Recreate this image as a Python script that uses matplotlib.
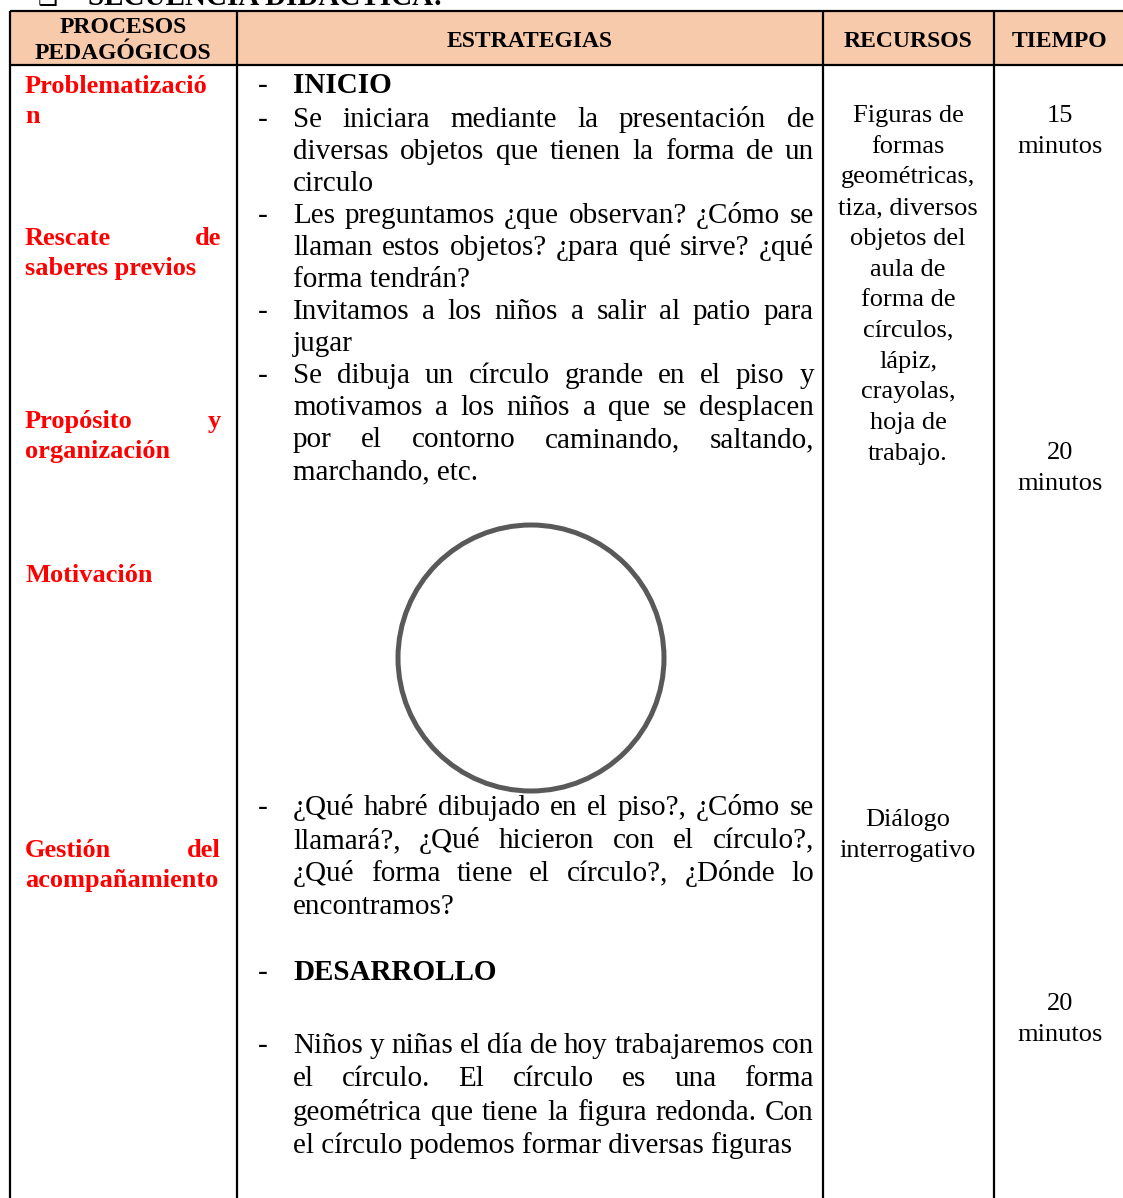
import matplotlib.pyplot as plt
from matplotlib.patches import Rectangle, Circle

plt.rcParams['font.family'] = ['Liberation Serif', 'DejaVu Sans']

# table content
title = "SECUENCIA DIDÁCTICA:"
headers = ["PROCESOS\nPEDAGÓGICOS", "ESTRATEGIAS", "RECURSOS", "TIEMPO"]

procesos = [
    ["Problematizació", "n"],
    ["Rescate de", "saberes previos"],
    ["Propósito y", "organización"],
    ["Motivación"],
    ["Gestión del", "acompañamiento"],
]

inicio_items = [
    ["Se iniciara mediante la presentación de",
     "diversas objetos que tienen la forma de un",
     "circulo"],
    ["Les preguntamos ¿que observan? ¿Cómo se",
     "llaman estos objetos? ¿para qué sirve? ¿qué",
     "forma tendrán?"],
    ["Invitamos a los niños a salir al patio para",
     "jugar"],
    ["Se dibuja un círculo grande en el piso y",
     "motivamos a los niños a que se desplacen",
     "por el contorno caminando, saltando,",
     "marchando, etc."],
]
preguntas = ["¿Qué habré dibujado en el piso?, ¿Cómo se",
             "llamará?, ¿Qué hicieron con el círculo?,",
             "¿Qué forma tiene el círculo?, ¿Dónde lo",
             "encontramos?"]
desarrollo = ["Niños y niñas el día de hoy trabajaremos con",
              "el círculo. El círculo es una forma",
              "geométrica que tiene la figura redonda. Con",
              "el círculo podemos formar diversas figuras"]

recursos_1 = ["Figuras de", "formas", "geométricas,", "tiza, diversos",
              "objetos del", "aula de", "forma de", "círculos,", "lápiz,",
              "crayolas,", "hoja de", "trabajo."]
recursos_2 = ["Diálogo", "interrogativo"]
tiempos = ["15", "20", "20"]

W, H = 1123, 1198
fig = plt.figure(figsize=(W / 100, H / 100), dpi=100)
ax = fig.add_axes([0, 0, 1, 1])
ax.set_xlim(0, W)
ax.set_ylim(H, 0)
ax.axis('off')
renderer = fig.canvas.get_renderer()

BODY = 21
RED = '#FF0000'


def put_line(line, x0, x1, y, justify, **kw):
    words = line.split()
    if not justify or len(words) < 2:
        ax.text(x0, y, line, va='baseline', ha='left', **kw)
        return
    texts = [ax.text(0, y, w, va='baseline', ha='left', **kw) for w in words]
    widths = [t.get_window_extent(renderer).width for t in texts]
    gap = (x1 - x0 - sum(widths)) / (len(words) - 1)
    x = x0
    for t, w in zip(texts, widths):
        t.set_x(x)
        x += w + gap


def paragraph(lines, x0, x1, y, pitch, dash=True, **kw):
    if dash:
        ax.text(258, y, "-", va='baseline', ha='left', fontsize=BODY)
    for i, line in enumerate(lines):
        put_line(line, x0, x1, y + i * pitch, i < len(lines) - 1, **kw)
    return y + len(lines) * pitch


# header band and grid
ax.add_patch(Rectangle((10, 11), W, 54, facecolor='#F7CAAC', edgecolor='none'))
for yy in [11, 65]:
    ax.plot([10, W], [yy, yy], color='black', lw=1.6, solid_capstyle='butt')
for xx in [10, 237, 823, 994]:
    ax.plot([xx, xx], [11, H], color='black', lw=1.6, solid_capstyle='butt')

# title (cut off at the top)
ax.text(38, 5, "\u2751", va='baseline', ha='left', fontsize=16, fontweight='bold')
ax.text(88, 5, title, va='baseline', ha='left', fontsize=BODY, fontweight='bold')

# headers
hx = [123, 530, 908, 1060]
ax.text(hx[0], 33, headers[0].split("\n")[0], ha='center', va='baseline',
        fontsize=17, fontweight='bold')
ax.text(hx[0], 59, headers[0].split("\n")[1], ha='center', va='baseline',
        fontsize=17, fontweight='bold')
for x, h in zip(hx[1:], headers[1:]):
    ax.text(x, 47, h, ha='center', va='baseline', fontsize=17, fontweight='bold')

# procesos pedagogicos
proc_y = [93, 245, 428, 582, 857]
for lines, y in zip(procesos, proc_y):
    for i, line in enumerate(lines):
        put_line(line, 25, 221, y + i * 30, i < len(lines) - 1,
                 fontsize=19, fontweight='bold', color=RED)

# estrategias
ax.text(258, 93, "-", va='baseline', ha='left', fontsize=BODY)
ax.text(293, 93, "INICIO", va='baseline', ha='left', fontsize=BODY, fontweight='bold')
y = 127
for item in inicio_items:
    y = paragraph(item, 293, 814, y, 32, fontsize=BODY)

ax.add_patch(Circle((531, 658), 133, fill=False, edgecolor='#595959', lw=3.6))

paragraph(preguntas, 293, 814, 815, 33, fontsize=BODY)
ax.text(258, 980, "-", va='baseline', ha='left', fontsize=BODY)
ax.text(293, 980, "DESARROLLO", va='baseline', ha='left', fontsize=BODY, fontweight='bold')
paragraph(desarrollo, 293, 814, 1053, 33.3, fontsize=BODY)

# recursos
for i, line in enumerate(recursos_1):
    ax.text(908, 122 + i * 30.7, line, ha='center', va='baseline', fontsize=19)
for i, line in enumerate(recursos_2):
    ax.text(908, 826 + i * 31, line, ha='center', va='baseline', fontsize=19)

# tiempo
for t, y in zip(tiempos, [122, 459, 1010]):
    ax.text(1060, y, t, ha='center', va='baseline', fontsize=19)
    ax.text(1060, y + 31, "minutos", ha='center', va='baseline', fontsize=19)

fig.savefig("out.png", dpi=100)
